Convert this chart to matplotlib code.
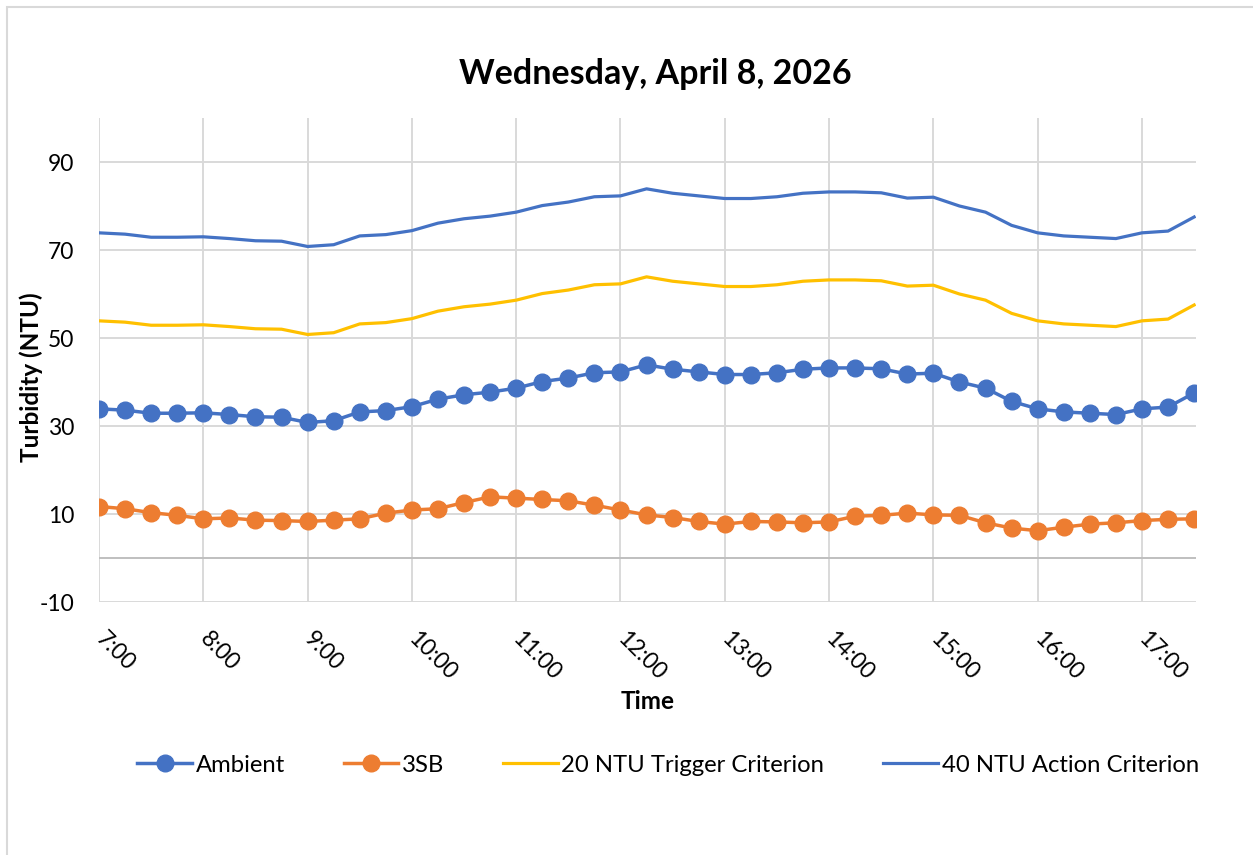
import matplotlib
matplotlib.use("Agg")
import matplotlib.pyplot as plt
from matplotlib.patches import Rectangle

plt.rcParams['font.family'] = ['Lato', 'DejaVu Sans']
plt.rcParams['axes.unicode_minus'] = False

# ---------------- data ----------------
times = ["7:00", "7:15", "7:30", "7:45", "8:00", "8:15", "8:30", "8:45",
         "9:00", "9:15", "9:30", "9:45", "10:00", "10:15", "10:30", "10:45",
         "11:00", "11:15", "11:30", "11:45", "12:00", "12:15", "12:30", "12:45",
         "13:00", "13:15", "13:30", "13:45", "14:00", "14:15", "14:30", "14:45",
         "15:00", "15:15", "15:30", "15:45", "16:00", "16:15", "16:30", "16:45",
         "17:00", "17:15", "17:30"]

ambient = [33.9, 33.6, 32.9, 32.9, 33.0, 32.6, 32.1, 32.0, 30.8, 31.2, 33.2, 33.5,
           34.4, 36.1, 37.1, 37.7, 38.6, 40.1, 40.9, 42.1, 42.3, 43.9, 42.9, 42.3,
           41.7, 41.7, 42.1, 42.9, 43.2, 43.2, 43.0, 41.8, 42.0, 40.0, 38.6, 35.6,
           33.9, 33.2, 32.9, 32.6, 33.9, 34.3, 37.5]

sb3 = [11.7, 11.2, 10.3, 9.7, 8.9, 9.1, 8.6, 8.5, 8.3, 8.6, 8.9, 10.2,
       10.9, 11.2, 12.6, 13.9, 13.6, 13.3, 13.0, 12.0, 10.9, 9.8, 9.2, 8.3,
       7.7, 8.3, 8.2, 8.0, 8.2, 9.5, 9.7, 10.2, 9.8, 9.7, 8.0, 6.8,
       6.2, 7.0, 7.7, 8.0, 8.5, 8.8, 8.9]

trigger = [53.9, 53.6, 52.9, 52.9, 53.0, 52.6, 52.1, 52.0, 50.8, 51.2, 53.2, 53.5,
           54.4, 56.1, 57.1, 57.7, 58.6, 60.1, 60.9, 62.1, 62.3, 63.9, 62.9, 62.3,
           61.7, 61.7, 62.1, 62.9, 63.2, 63.2, 63.0, 61.8, 62.0, 60.0, 58.6, 55.6,
           53.9, 53.2, 52.9, 52.6, 53.9, 54.3, 57.5]

action = [73.9, 73.6, 72.9, 72.9, 73.0, 72.6, 72.1, 72.0, 70.8, 71.2, 73.2, 73.5,
          74.4, 76.1, 77.1, 77.7, 78.6, 80.1, 80.9, 82.1, 82.3, 83.9, 82.9, 82.3,
          81.7, 81.7, 82.1, 82.9, 83.2, 83.2, 83.0, 81.8, 82.0, 80.0, 78.6, 75.6,
          73.9, 73.2, 72.9, 72.6, 73.9, 74.3, 77.5]

hour_ticks = [7, 8, 9, 10, 11, 12, 13, 14, 15, 16, 17]
hour_labels = ["7:00", "8:00", "9:00", "10:00", "11:00", "12:00",
               "13:00", "14:00", "15:00", "16:00", "17:00"]
y_ticks = [-10, 10, 30, 50, 70, 90]

series_names = ["Ambient", "3SB", "20 NTU Trigger Criterion", "40 NTU Action Criterion"]
title = "Wednesday, April 8, 2026"

# ---------------- style ----------------
BLUE = "#4472C4"
ORANGE = "#ED7D31"
YELLOW = "#FFC000"
GRID = "#D9D9D9"

W, H = 1253, 855
fig = plt.figure(figsize=(W / 100, H / 100), dpi=100)

x = [int(t.split(":")[0]) + int(t.split(":")[1]) / 60 for t in times]

left, right, top, bottom = 99, 1196, 118, 602
ax = fig.add_axes([left / W, 1 - bottom / H, (right - left) / W, (bottom - top) / H])

ax.plot(x, ambient, color=BLUE, lw=2.5, marker='o', ms=12, label=series_names[0], zorder=4)
ax.plot(x, sb3, color=ORANGE, lw=2.5, marker='o', ms=12, label=series_names[1], zorder=4)
ax.plot(x, trigger, color=YELLOW, lw=2.3, label=series_names[2], zorder=3)
ax.plot(x, action, color=BLUE, lw=2.3, label=series_names[3], zorder=3)

ax.set_xlim(7, 17.518)
ax.set_ylim(-10, 100)
ax.set_yticks(y_ticks)
ax.set_xticks(hour_ticks)
ax.set_xticklabels(hour_labels, rotation=-45, ha='left', va='center',
                   rotation_mode='anchor')
ax.tick_params(axis='both', length=0, labelsize=16.5, colors='black')
ax.tick_params(axis='y', pad=18)
ax.tick_params(axis='x', pad=24)
ax.grid(True, color=GRID, lw=1.4, zorder=0)
ax.axhline(0, color="#BFBFBF", lw=1.4, zorder=1)
for s in ax.spines.values():
    s.set_visible(False)
ax.set_axisbelow(True)

fig.text(655 / W, 1 - 74 / H, title, ha='center', va='center',
         fontsize=24.5, fontweight='bold')
fig.text(648 / W, 1 - 701 / H, "Time", ha='center', va='center',
         fontsize=17.5, fontweight='bold')
fig.text(31 / W, 1 - 377 / H, "Turbidity (NTU)", ha='center', va='center',
         rotation=90, fontsize=17.5, fontweight='bold')

handles, labels = ax.get_legend_handles_labels()
fig.legend(handles, labels, loc='center', bbox_to_anchor=(668 / W, 1 - 765 / H),
           ncol=4, frameon=False, fontsize=17.2, handlelength=2.3,
           handletextpad=0.15, columnspacing=2.45, markerscale=1.0)

fig.add_artist(Rectangle((7 / W, -0.05), 1.2, (H - 7) / H + 0.05,
                         transform=fig.transFigure, fill=False,
                         ec=GRID, lw=1.5))

fig.savefig("out.png", dpi=100, facecolor='white')
